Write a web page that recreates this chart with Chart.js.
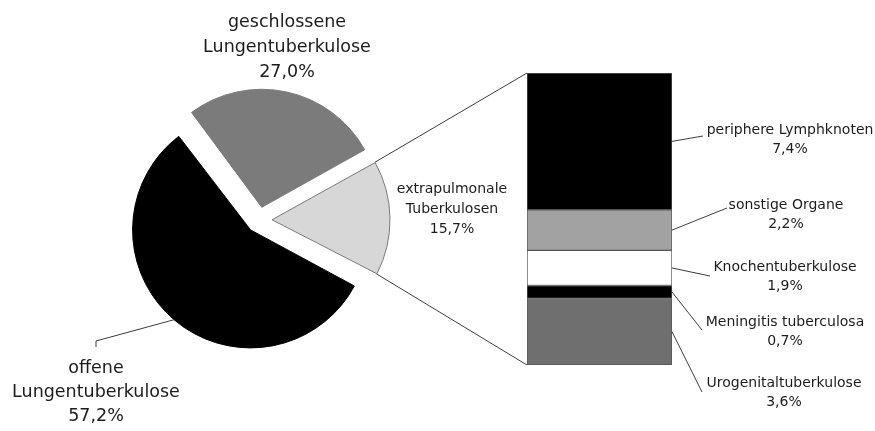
<!DOCTYPE html>
<html>
<head>
<meta charset="utf-8">
<script src="https://cdn.jsdelivr.net/npm/chart.js@4.4.1/dist/chart.umd.min.js"></script>
<style>
  html, body { margin: 0; padding: 0; background: #fff; }
  #wrap { position: relative; width: 875px; height: 431px; }
  #wrap canvas { position: absolute; left: 0; top: 0; }
</style>
</head>
<body>
<div id="wrap">
  <canvas id="ch-pie" width="875" height="431"></canvas>
  <canvas id="ch-bar" width="875" height="431"></canvas>
</div>
<script>
'use strict';
/* ── data ─────────────────────────────────────────────── */
const pieLabels = [['geschlossene', 'Lungentuberkulose'], ['extrapulmonale', 'Tuberkulosen'], ['offene', 'Lungentuberkulose']];
const pieValues = [27.0, 15.7, 57.2];
const barLabels = [['periphere Lymphknoten'], ['sonstige Organe'], ['Knochentuberkulose'], ['Meningitis tuberculosa'], ['Urogenitaltuberkulose']];
const barValues = [7.4, 2.2, 1.9, 0.7, 3.6];

/* ── look & layout ────────────────────────────────────── */
const FONT = '"DejaVu Sans", Verdana, sans-serif';
const PIE_COLORS = ['#7b7b7b', '#d7d7d7', '#000000'];
const PIE_BORDER = ['#7b7b7b', '#7a7a7a', '#000000'];
const BAR_COLORS = ['#000000', '#a2a2a2', '#ffffff', '#000000', '#6f6f6f'];
const PIE_R = 118, PIE_OFFSET = 52;           // offset/4 = 13px explosion
const PIE_TXT = [
  { x: 287, y: 22,  lh: 25, size: 17.5 },
  { x: 452, y: 189, lh: 20, size: 14 },
  { x: 96,  y: 368, lh: 24, size: 17.5 }
];
const BAR_TXT = [
  { x: 790, y: 130, ax: 703, ay: 136 },
  { x: 786, y: 205, ax: 727, ay: 208 },
  { x: 785, y: 267, ax: 710, ay: 276 },
  { x: 785, y: 322, ax: 702, ay: 330 },
  { x: 784, y: 383, ax: 702, ay: 392 }
];

const ri = id => document.getElementById(id);
const pct = v => v.toFixed(1).replace('.', ',') + '%';

function textBlock(ctx, lines, x, y, lh, size) {
  ctx.font = `${size}px ${FONT}`;
  ctx.fillStyle = '#1c1c1c';
  ctx.textAlign = 'center';
  ctx.textBaseline = 'middle';
  lines.forEach((t, i) => ctx.fillText(t, x, y + i * lh));
}

// keep every exploded slice at the same drawn radius
const evenRadius = {
  id: 'evenRadius',
  beforeDatasetsDraw(chart) {
    chart.getDatasetMeta(0).data.forEach(arc => {
      const fix = 1 - Math.sin(Math.min(Math.PI, arc.circumference));
      arc.outerRadius = PIE_R - (PIE_OFFSET / 4) * fix;
    });
  }
};

const pieChart = new Chart(ri('ch-pie'), {
  type: 'pie',
  data: {
    labels: pieLabels.map(l => l.join(' ')),
    datasets: [{
      data: pieValues,
      backgroundColor: PIE_COLORS,
      borderColor: PIE_BORDER,
      borderWidth: 1,
      offset: PIE_OFFSET
    }]
  },
  options: {
    responsive: false, animation: false,
    rotation: -36.5,
    radius: PIE_R,
    layout: { padding: { left: 139, right: 496, top: 100, bottom: 91 } },
    plugins: { legend: { display: false }, tooltip: { enabled: false } }
  },
  plugins: [evenRadius]
});

// exploded arc geometry: centre shifted along the bisector
function arcPoint(arc, angle) {
  const mid = (arc.startAngle + arc.endAngle) / 2, off = PIE_OFFSET / 4;
  return [arc.x + Math.cos(mid) * off + Math.cos(angle) * PIE_R,
          arc.y + Math.sin(mid) * off + Math.sin(angle) * PIE_R];
}

const annotate = {
  id: 'annotate',
  afterDraw(chart) {
    const ctx = chart.ctx;
    const arcs = pieChart.getDatasetMeta(0).data;
    const bars = chart.data.datasets.map((d, i) => chart.getDatasetMeta(i).data[0]);
    const top = Math.min(...bars.map(b => Math.min(b.y, b.base)));
    const bottom = Math.max(...bars.map(b => Math.max(b.y, b.base)));
    const left = bars[0].x - bars[0].width / 2, right = bars[0].x + bars[0].width / 2;

    ctx.save();
    ctx.strokeStyle = '#3c3c3c';
    ctx.lineWidth = 1;
    const line = pts => { ctx.beginPath(); ctx.moveTo(...pts[0]); pts.slice(1).forEach(p => ctx.lineTo(...p)); ctx.stroke(); };

    // pie slice -> bar
    const ext = arcs[1];
    line([arcPoint(ext, ext.startAngle), [left, top]]);
    line([arcPoint(ext, ext.endAngle), [left, bottom]]);

    // offene leader
    const blk = arcs[2];
    line([arcPoint(blk, (blk.startAngle + blk.endAngle) / 2), [96, 341], [96, 347]]);

    // bar segment leaders
    bars.forEach((b, i) => line([[right, (b.y + b.base) / 2], [BAR_TXT[i].ax, BAR_TXT[i].ay]]));

    pieLabels.forEach((l, i) => {
      const p = PIE_TXT[i];
      textBlock(ctx, [...l, pct(pieValues[i])], p.x, p.y, p.lh, p.size);
    });
    barLabels.forEach((l, i) => {
      const p = BAR_TXT[i];
      textBlock(ctx, [...l, pct(barValues[i])], p.x, p.y, 19, 14);
    });
    ctx.restore();
  }
};

new Chart(ri('ch-bar'), {
  type: 'bar',
  data: {
    labels: [''],
    datasets: barValues.map((v, i) => ({
      label: barLabels[i][0],
      data: [v],
      backgroundColor: BAR_COLORS[i],
      borderColor: '#555555',
      borderWidth: 1,
      borderSkipped: false,
      barPercentage: 1,
      categoryPercentage: 1
    }))
  },
  options: {
    responsive: false, animation: false,
    layout: { padding: { left: 527, right: 203, top: 73, bottom: 66 } },
    plugins: { legend: { display: false }, tooltip: { enabled: false } },
    scales: {
      x: { display: false, stacked: true },
      y: { display: false, stacked: true, reverse: true, min: 0, max: barValues.reduce((s, v) => s + v, 0) }
    }
  },
  plugins: [annotate]
});
</script>
</body>
</html>
